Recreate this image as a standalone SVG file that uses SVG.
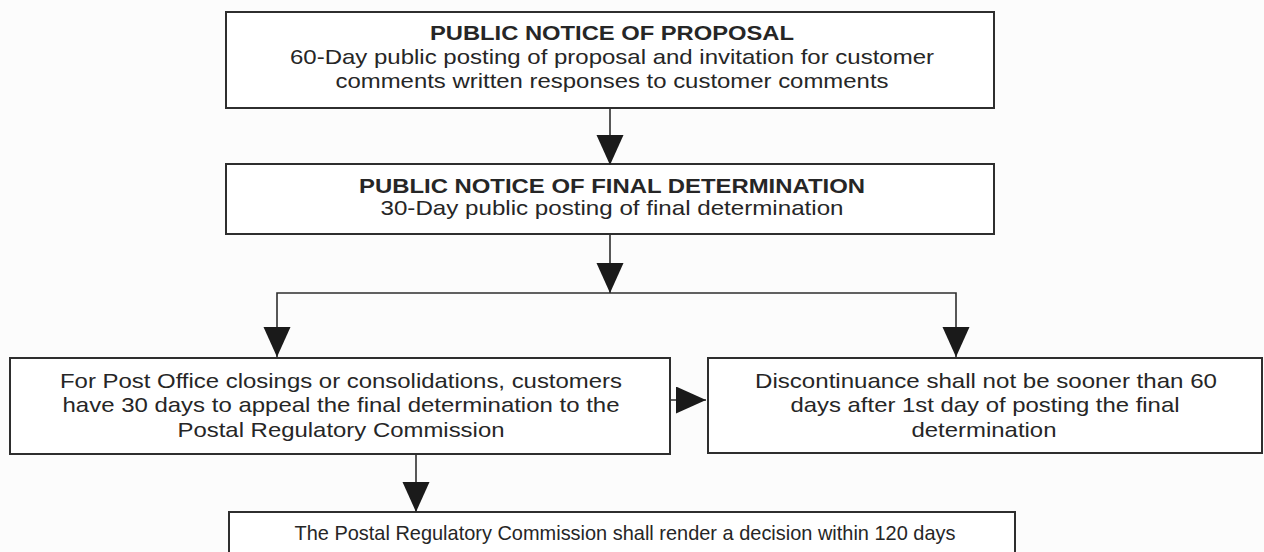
<svg xmlns="http://www.w3.org/2000/svg" width="1264" height="552" viewBox="0 0 1264 552">
<style>
.box{fill:#ffffff;stroke:#2e2e2e;stroke-width:2}
.t{font-family:"Liberation Sans",Arial,Helvetica,sans-serif;font-size:21px;fill:#262626;text-anchor:middle}
.b{font-weight:bold}
.c{fill:none;stroke:#2e2e2e;stroke-width:1.6}
</style>
<defs>
<marker id="ah" markerUnits="userSpaceOnUse" markerWidth="31" markerHeight="28" refX="30" refY="13.5" orient="auto">
<path d="M0,0 L30,13.5 L0,27 Z" fill="#1a1a1a"/>
</marker>
</defs>
<rect width="1264" height="552" fill="#fcfcfc"/>
<g id="n1">
<rect class="box" x="226" y="12" width="768" height="96"/>
<text class="t b" x="612" y="40" textLength="364" lengthAdjust="spacingAndGlyphs">PUBLIC NOTICE OF PROPOSAL</text>
<text class="t" x="612" y="64" textLength="644" lengthAdjust="spacingAndGlyphs">60-Day public posting of proposal and invitation for customer</text>
<text class="t" x="612" y="88" textLength="553" lengthAdjust="spacingAndGlyphs">comments written responses to customer comments</text>
</g>
<g id="n2">
<rect class="box" x="226" y="164" width="768" height="70"/>
<text class="t b" x="612" y="193" textLength="506" lengthAdjust="spacingAndGlyphs">PUBLIC NOTICE OF FINAL DETERMINATION</text>
<text class="t" x="612" y="215" textLength="463" lengthAdjust="spacingAndGlyphs">30-Day public posting of final determination</text>
</g>
<g id="n3">
<rect class="box" x="10" y="358" width="660" height="96"/>
<text class="t" x="341" y="388" textLength="562" lengthAdjust="spacingAndGlyphs">For Post Office closings or consolidations, customers</text>
<text class="t" x="341" y="412" textLength="557" lengthAdjust="spacingAndGlyphs">have 30 days to appeal the final determination to the</text>
<text class="t" x="341" y="437" textLength="327" lengthAdjust="spacingAndGlyphs">Postal Regulatory Commission</text>
</g>
<g id="n4">
<rect class="box" x="708" y="358" width="554" height="95"/>
<text class="t" x="986" y="388" textLength="462" lengthAdjust="spacingAndGlyphs">Discontinuance shall not be sooner than 60</text>
<text class="t" x="985" y="412" textLength="389" lengthAdjust="spacingAndGlyphs">days after 1st day of posting the final</text>
<text class="t" x="984" y="437" textLength="145" lengthAdjust="spacingAndGlyphs">determination</text>
</g>
<g id="n5">
<rect class="box" x="229" y="512" width="786" height="60"/>
<text class="t" x="625" y="540" textLength="661" lengthAdjust="spacingAndGlyphs">The Postal Regulatory Commission shall render a decision within 120 days</text>
</g>
<g id="connectors">
<path class="c" d="M610,108 V165" marker-end="url(#ah)"/>
<path class="c" d="M610,234 V293" marker-end="url(#ah)"/>
<path class="c" d="M610,293 H277 V357" marker-end="url(#ah)"/>
<path class="c" d="M610,293 H956 V357" marker-end="url(#ah)"/>
<path class="c" d="M670,400 H706" marker-end="url(#ah)"/>
<path class="c" d="M416,454 V512" marker-end="url(#ah)"/>
</g>
</svg>
